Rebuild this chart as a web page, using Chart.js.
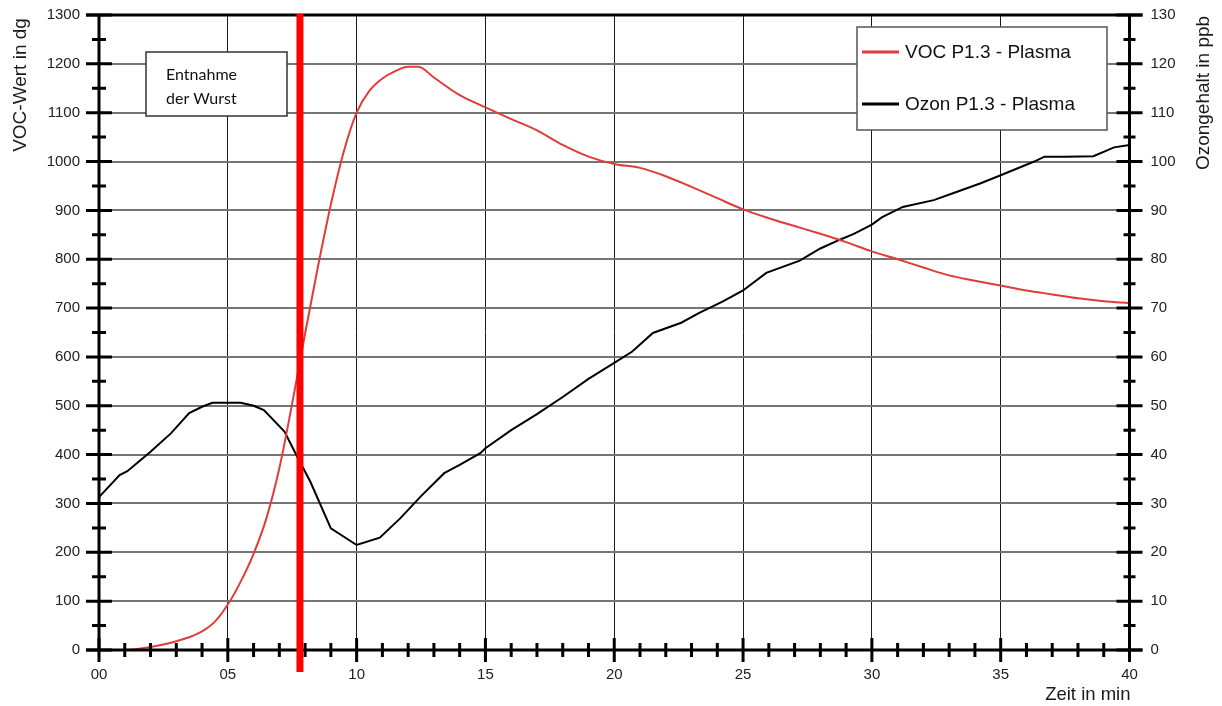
<!DOCTYPE html>
<html><head><meta charset="utf-8">
<script src="https://cdn.jsdelivr.net/npm/chart.js@4/dist/chart.umd.min.js"></script>
<style>html,body{margin:0;padding:0;background:#fff;}#wrap{width:1222px;height:706px;position:relative;}</style>
</head><body><div id="wrap"><canvas id="c" width="1222" height="706"></canvas></div>
<script>
// ---- data ----
const vocTime   = [0, 1, 2, 3, 3.5, 4, 4.5, 5, 5.5, 6, 6.5, 7, 7.5, 8, 8.5, 9, 9.5, 10, 10.5, 11, 11.5, 12, 12.4, 13, 14, 15, 16, 17, 18, 19, 20, 21, 22, 23, 24, 25, 26, 27, 28, 29, 30, 31, 32, 33, 34, 35, 36, 37, 38, 39, 40];
const vocValues = [0, 0, 6, 18, 26, 38, 58, 93, 140, 197, 270, 372, 505, 648, 785, 912, 1020, 1100, 1145, 1170, 1185, 1194, 1194, 1172, 1136, 1111, 1087, 1064, 1034, 1010, 995, 987, 970, 948, 925, 902, 884, 868, 852, 835, 816, 800, 783, 767, 756, 746, 736, 728, 720, 714, 710];
const ozoneTime   = [0, 0.8, 1.1, 2, 2.8, 3.5, 4, 4.4, 5.5, 6, 6.4, 7.2, 7.7, 8.2, 9, 10, 10.9, 11.7, 12.5, 13.4, 14, 14.8, 15, 16, 17, 18, 19, 20, 20.7, 21.5, 22.6, 23.3, 24.2, 25, 25.9, 27.2, 28, 28.8, 29.3, 30, 30.4, 31.2, 32.4, 33.2, 34.2, 35, 36.3, 36.7, 37.5, 38.6, 39.4, 40];
const ozoneValues = [31.3, 35.8, 36.6, 40.6, 44.4, 48.5, 49.8, 50.6, 50.6, 50.0, 49.1, 44.7, 39.5, 34.5, 24.9, 21.5, 23.0, 27.0, 31.5, 36.2, 37.9, 40.3, 41.3, 45.0, 48.3, 51.8, 55.5, 58.8, 61.1, 64.9, 67.0, 69.0, 71.3, 73.6, 77.2, 79.7, 82.2, 84.1, 85.2, 87.1, 88.6, 90.7, 92.1, 93.6, 95.5, 97.2, 100.0, 101.0, 101.0, 101.1, 102.9, 103.4];
const xTickLabels = ['00', '05', '10', '15', '20', '25', '30', '35', '40'];
const vocTickLabels = ['0', '100', '200', '300', '400', '500', '600', '700', '800', '900', '1000', '1100', '1200', '1300'];
const ozoneTickLabels = ['0', '10', '20', '30', '40', '50', '60', '70', '80', '90', '100', '110', '120', '130'];
const seriesLabels = ['VOC P1.3 - Plasma', 'Ozon P1.3 - Plasma'];
const markerTime = 7.8;
const annotationLines = ['Entnahme', 'der Wurst'];
const xTitle = 'Zeit in min';
const yLeftTitle = 'VOC-Wert in dg';
const yRightTitle = 'Ozongehalt in ppb';

const AXF = '"Liberation Sans", Arial, sans-serif';

const decor = {
  id: 'decor',
  afterDatasetsDraw(chart) {
    const ctx = chart.ctx;
    const a = chart.chartArea;
    const xs = chart.scales.x, ys = chart.scales.y, y2 = chart.scales.y2;
    ctx.save();
    ctx.strokeStyle = '#000';
    ctx.lineCap = 'butt';
    ctx.lineWidth = 3;
    ctx.beginPath();
    ctx.moveTo(a.left, a.top); ctx.lineTo(a.left, a.bottom);
    ctx.moveTo(a.right, a.top); ctx.lineTo(a.right, a.bottom);
    ctx.moveTo(a.left - 13, a.bottom); ctx.lineTo(a.right + 13, a.bottom);
    ctx.stroke();
    ctx.beginPath();
    for (let v = 0; v <= 1300; v += 50) {
      const y = ys.getPixelForValue(v);
      const L = v % 100 === 0 ? 13 : 7;
      ctx.moveTo(a.left - L, y); ctx.lineTo(a.left + L, y);
    }
    for (let v = 0; v <= 130; v += 5) {
      const y = y2.getPixelForValue(v);
      const L = v % 10 === 0 ? 13 : 6;
      ctx.moveTo(a.right - L, y); ctx.lineTo(a.right + L, y);
    }
    for (let t = 0; t <= 40; t += 1) {
      const x = xs.getPixelForValue(t);
      const L = t % 5 === 0 ? 12 : 7;
      ctx.moveTo(x, a.bottom - L); ctx.lineTo(x, a.bottom + L);
    }
    ctx.stroke();
    ctx.lineWidth = 3;
    ctx.beginPath(); ctx.moveTo(a.left - 13, a.top); ctx.lineTo(a.right + 13, a.top); ctx.stroke();
    // red marker
    const mx = xs.getPixelForValue(markerTime);
    ctx.strokeStyle = '#ff0000';
    ctx.lineWidth = 7;
    ctx.beginPath(); ctx.moveTo(mx, a.top - 1); ctx.lineTo(mx, a.bottom + 22); ctx.stroke();
    // annotation box
    ctx.fillStyle = '#fff';
    ctx.fillRect(146, 52, 141, 64);
    ctx.strokeStyle = '#333'; ctx.lineWidth = 1.5;
    ctx.strokeRect(146, 52, 141, 64);
    ctx.fillStyle = '#111';
    ctx.font = '16px Lato, "Open Sans", sans-serif';
    ctx.textAlign = 'left'; ctx.textBaseline = 'alphabetic';
    ctx.fillText(annotationLines[0], 166, 80);
    ctx.fillText(annotationLines[1], 166, 104);
    // legend
    ctx.fillStyle = '#fff';
    ctx.fillRect(857, 27, 250, 103);
    ctx.strokeStyle = '#555'; ctx.lineWidth = 1.5;
    ctx.strokeRect(857, 27, 250, 103);
    const ly = [52, 104];
    chart.data.datasets.forEach((ds, i) => {
      ctx.strokeStyle = ds.borderColor; ctx.lineWidth = 3;
      ctx.beginPath(); ctx.moveTo(862, ly[i]); ctx.lineTo(899, ly[i]); ctx.stroke();
      ctx.fillStyle = '#111';
      ctx.font = '19px ' + AXF;
      ctx.textBaseline = 'middle';
      ctx.fillText(ds.label, 905, ly[i] + 1);
    });
    // titles
    ctx.fillStyle = '#1a1a1a';
    ctx.font = '18.5px ' + AXF;
    ctx.textAlign = 'right'; ctx.textBaseline = 'alphabetic';
    ctx.fillText(xTitle, a.right + 1, 700);
    ctx.textAlign = 'center'; ctx.textBaseline = 'middle';
    ctx.font = '19px ' + AXF;
    ctx.save(); ctx.translate(21, 85); ctx.rotate(-Math.PI / 2); ctx.fillText(yLeftTitle, 0, 0); ctx.restore();
    ctx.save(); ctx.translate(1204, 93); ctx.rotate(-Math.PI / 2); ctx.fillText(yRightTitle, 0, 0); ctx.restore();
    ctx.restore();
  }
};

function fixV(w) { return (s) => { s.width = w; s.paddingTop = 0; s.paddingBottom = 0; }; }

new Chart(document.getElementById('c'), {
  type: 'line',
  data: {
    datasets: [
      { label: seriesLabels[0], data: vocTime.map((t, i) => ({ x: t, y: vocValues[i] })), yAxisID: 'y',
        borderColor: '#e23b3b', borderWidth: 2, pointRadius: 0, cubicInterpolationMode: 'monotone', fill: false },
      { label: seriesLabels[1], data: ozoneTime.map((t, i) => ({ x: t, y: ozoneValues[i] })), yAxisID: 'y2',
        borderColor: '#000000', borderWidth: 2, pointRadius: 0, tension: 0, fill: false }
    ]
  },
  options: {
    responsive: false, animation: false, devicePixelRatio: 1,
    layout: { padding: { top: 15, left: 0, right: 0, bottom: 0 } },
    plugins: { legend: { display: false }, tooltip: { enabled: false } },
    scales: {
      x: { type: 'linear', min: 0, max: 40,
        ticks: { stepSize: 5, autoSkip: false, maxRotation: 0, padding: 16, color: '#222', font: { family: AXF, size: 15 },
          callback: (v, i) => xTickLabels[i] },
        grid: { color: '#1a1a1a', lineWidth: 1, drawTicks: false },
        border: { display: false },
        afterFit(s) { s.height = 56; s.paddingLeft = 0; s.paddingRight = 0; } },
      y: { position: 'left', min: 0, max: 1300,
        ticks: { stepSize: 100, padding: 19, color: '#222', font: { family: AXF, size: 15 },
          callback: (v, i) => vocTickLabels[i] },
        grid: { color: '#757575', lineWidth: 2, drawTicks: false },
        border: { display: false },
        afterFit: fixV(99) },
      y2: { position: 'right', min: 0, max: 130,
        ticks: { stepSize: 10, padding: 21, color: '#222', font: { family: AXF, size: 15 },
          callback: (v, i) => ozoneTickLabels[i] },
        grid: { drawOnChartArea: false, drawTicks: false },
        border: { display: false },
        afterFit: fixV(92.5) }
    }
  },
  plugins: [decor]
});
</script></body></html>
